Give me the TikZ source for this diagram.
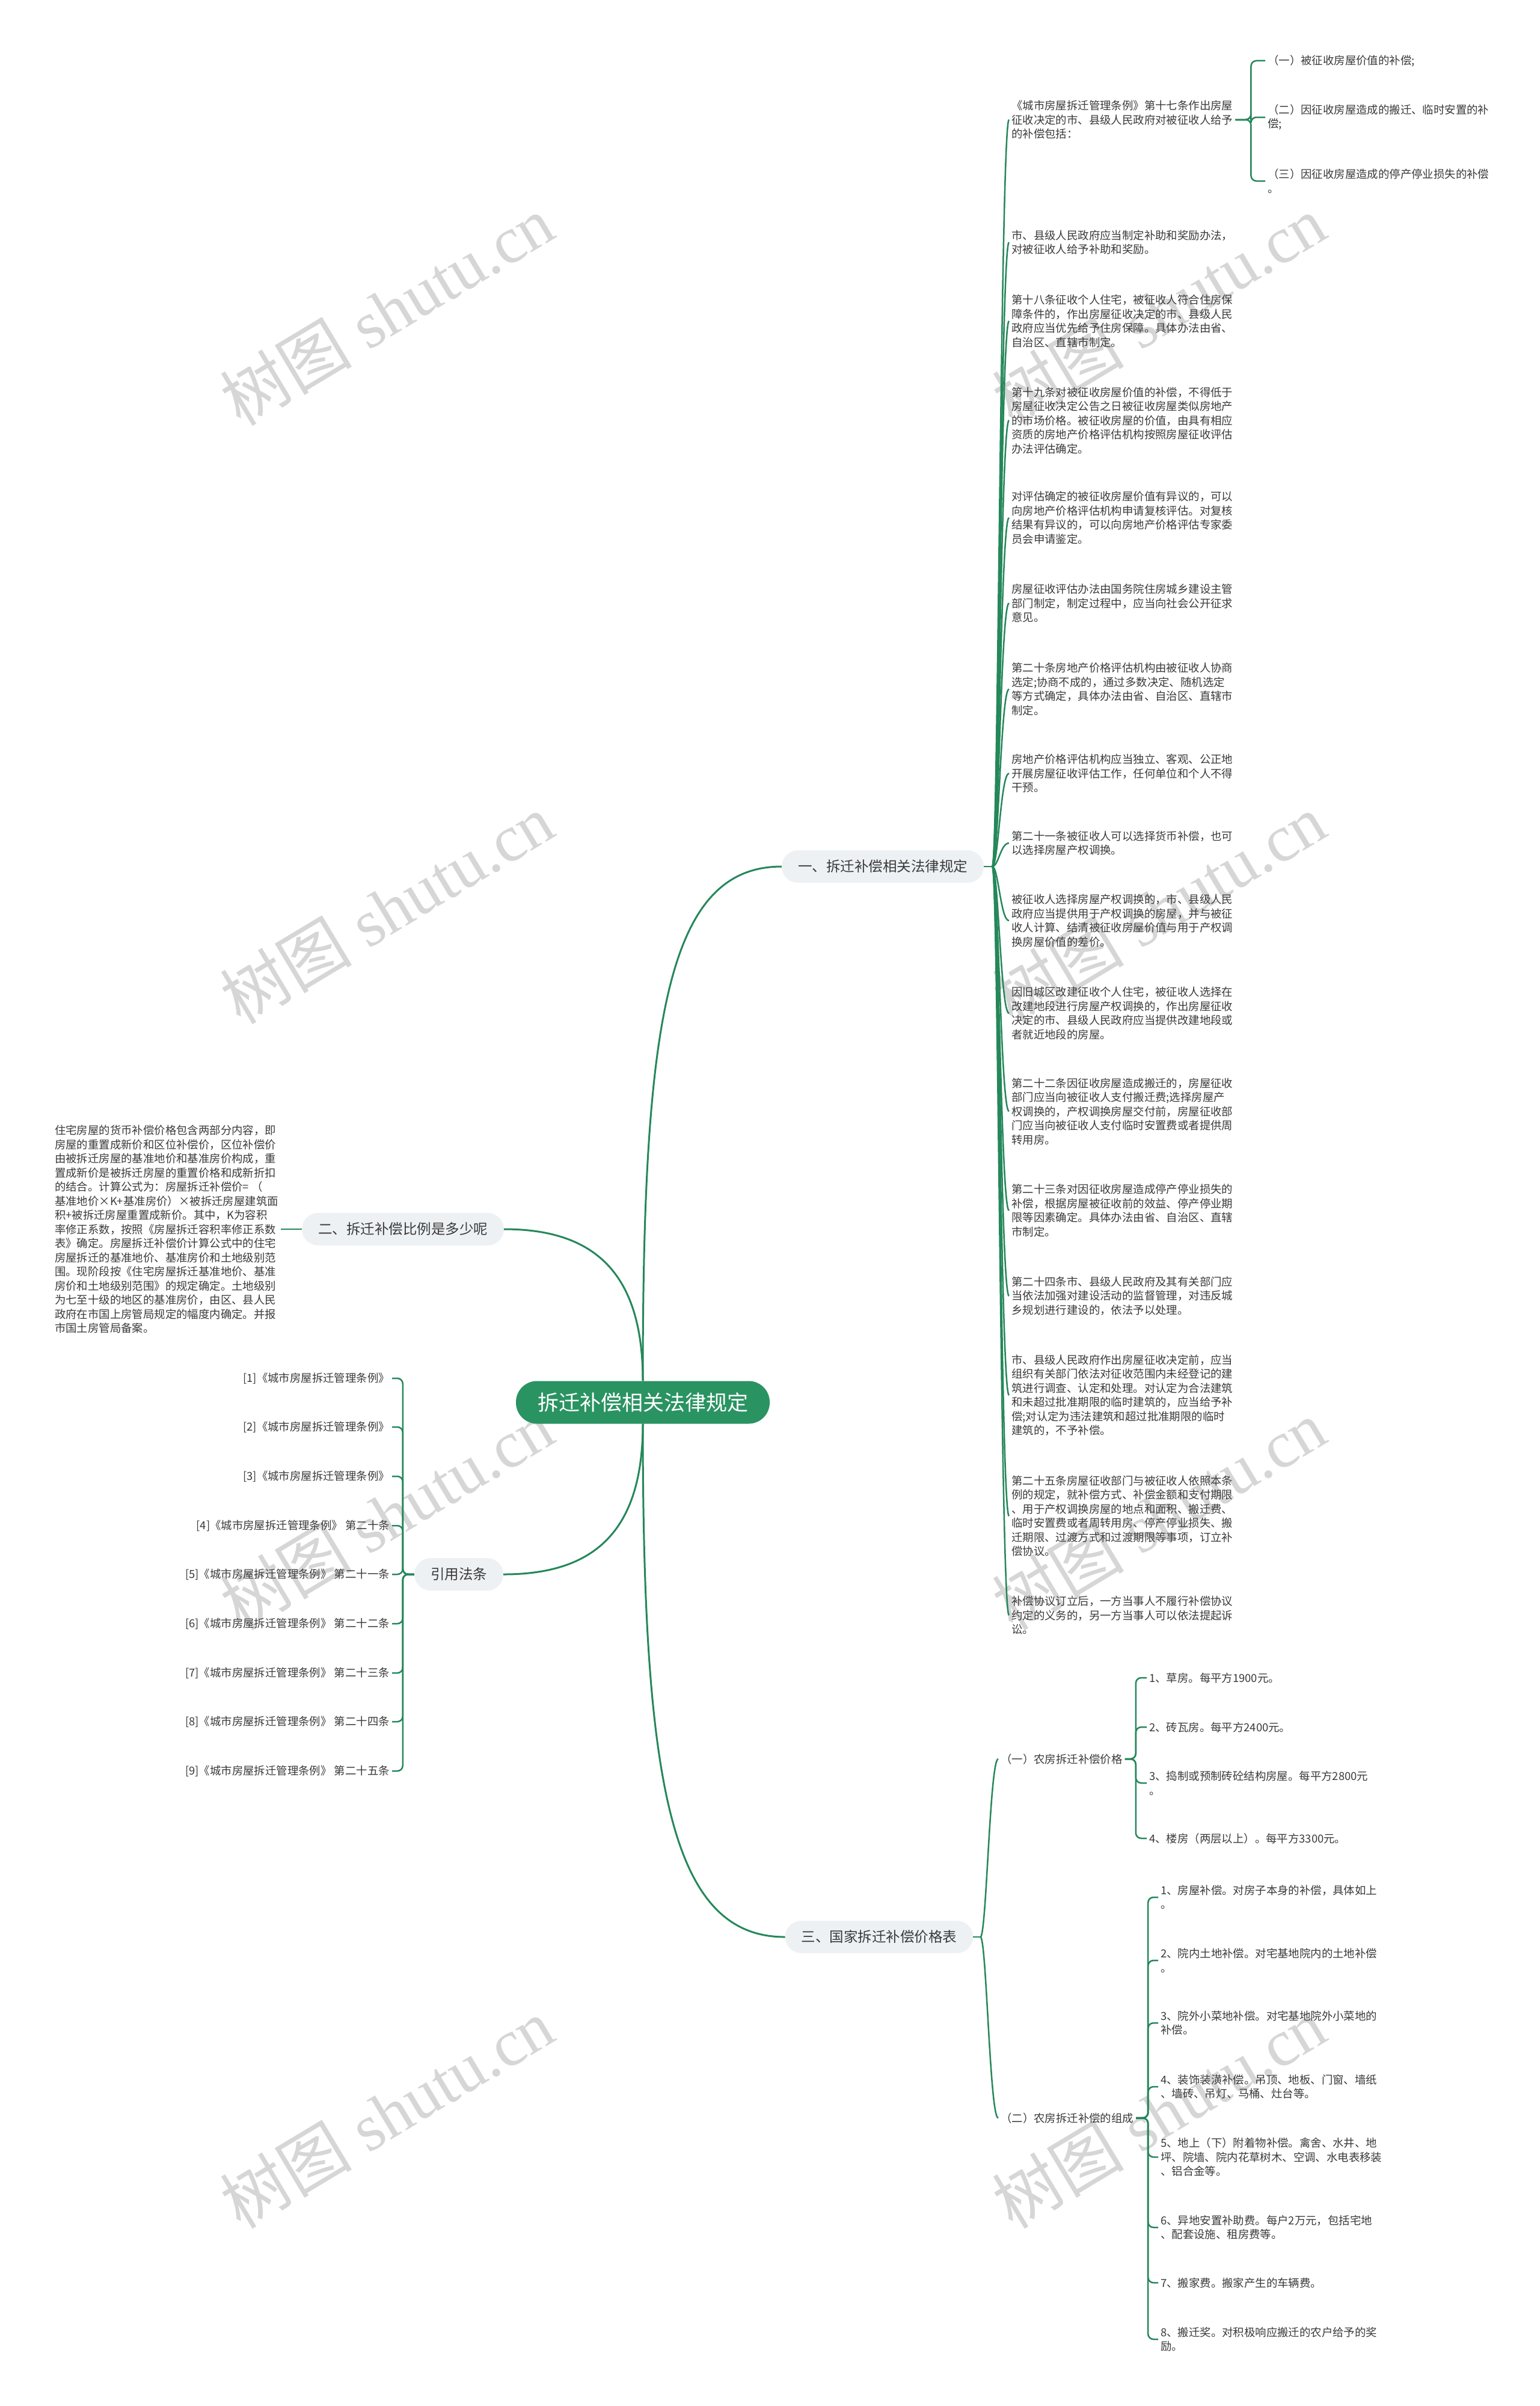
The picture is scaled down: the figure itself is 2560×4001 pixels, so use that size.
\documentclass[tikz,border=0pt]{standalone}
\usepackage{fontspec}
\newfontfamily\cjkfont{Noto Sans CJK SC}
\newfontfamily\wmserif{Liberation Serif}
\definecolor{rootgreen}{HTML}{2A9362}
\definecolor{linegreen}{HTML}{25875A}
\definecolor{pillgray}{HTML}{EEF1F4}
\definecolor{inkgray}{HTML}{3A3A3A}
\definecolor{wmgray}{HTML}{D6D6D6}

\begin{document}
\begin{tikzpicture}[x=1pt, y=-1pt,
    root/.style={rectangle, rounded corners=35pt, fill=rootgreen, text=white, minimum height=71pt, inner xsep=36pt, inner ysep=0pt, font=\cjkfont\fontsize{35}{42}\selectfont},
    branch/.style={rectangle, rounded corners=27pt, fill=pillgray, text=inkgray, minimum height=54pt, inner xsep=27pt, inner ysep=0pt, font=\cjkfont\fontsize{23.5}{28}\selectfont},
    leaf/.style={anchor=west, align=left, inner sep=4pt, text=inkgray, font=\cjkfont\fontsize{18.4}{23.5}\selectfont},
    cite/.style={leaf, anchor=east, align=right},
    wmark/.style={rotate=31, text=wmgray, font=\wmserif\fontsize{110}{110}\selectfont},
    link/.style={draw=linegreen, line width=3pt},
    twig/.style={draw=linegreen, line width=2.5pt},
    bracket/.style={twig, rounded corners=9pt}
]
    % Page
    \fill[white] (0,0) rectangle (2560,4001);
    \useasboundingbox (0,0) rectangle (2560,4001);

    % Watermarks
    \node[wmark] (w1) at (643,516) {{\cjkfont 树图} shutu.cn};
    \node[wmark] (w2) at (1927,516) {{\cjkfont 树图} shutu.cn};
    \node[wmark] (w3) at (643,1511) {{\cjkfont 树图} shutu.cn};
    \node[wmark] (w4) at (1927,1511) {{\cjkfont 树图} shutu.cn};
    \node[wmark] (w5) at (643,2519) {{\cjkfont 树图} shutu.cn};
    \node[wmark] (w6) at (1927,2519) {{\cjkfont 树图} shutu.cn};
    \node[wmark] (w7) at (643,3514) {{\cjkfont 树图} shutu.cn};
    \node[wmark] (w8) at (1927,3514) {{\cjkfont 树图} shutu.cn};

    % Centre and first level
    \node[root] (root) at (1069,2332) {拆迁补偿相关法律规定};
    \node[branch] (law) at (1468,1441) {一、拆迁补偿相关法律规定};
    \node[branch] (ratio) at (670,2044) {二、拆迁补偿比例是多少呢};
    \node[branch] (refs) at (763,2618) {引用法条};
    \node[branch] (price) at (1462,3221) {三、国家拆迁补偿价格表};

    % Right column: legal rules
    \node[leaf] (rule0) at (1678,199) {《城市房屋拆迁管理条例》第十七条作出房屋\\征收决定的市、县级人民政府对被征收人给予\\的补偿包括：};
    \node[leaf] (item1) at (2104,101) {（一）被征收房屋价值的补偿;};
    \node[leaf] (item2) at (2104,195) {（二）因征收房屋造成的搬迁、临时安置的补\\偿;};
    \node[leaf] (item3) at (2104,301) {（三）因征收房屋造成的停产停业损失的补偿\\。};
    \node[leaf] (rule1) at (1678,403) {市、县级人民政府应当制定补助和奖励办法，\\对被征收人给予补助和奖励。};
    \node[leaf] (rule2) at (1678,534) {第十八条征收个人住宅，被征收人符合住房保\\障条件的，作出房屋征收决定的市、县级人民\\政府应当优先给予住房保障。具体办法由省、\\自治区、直辖市制定。};
    \node[leaf] (rule3) at (1678,699) {第十九条对被征收房屋价值的补偿，不得低于\\房屋征收决定公告之日被征收房屋类似房地产\\的市场价格。被征收房屋的价值，由具有相应\\资质的房地产价格评估机构按照房屋征收评估\\办法评估确定。};
    \node[leaf] (rule4) at (1678,861) {对评估确定的被征收房屋价值有异议的，可以\\向房地产价格评估机构申请复核评估。对复核\\结果有异议的，可以向房地产价格评估专家委\\员会申请鉴定。};
    \node[leaf] (rule5) at (1678,1003) {房屋征收评估办法由国务院住房城乡建设主管\\部门制定，制定过程中，应当向社会公开征求\\意见。};
    \node[leaf] (rule6) at (1678,1146) {第二十条房地产价格评估机构由被征收人协商\\选定;协商不成的，通过多数决定、随机选定\\等方式确定，具体办法由省、自治区、直辖市\\制定。};
    \node[leaf] (rule7) at (1678,1286) {房地产价格评估机构应当独立、客观、公正地\\开展房屋征收评估工作，任何单位和个人不得\\干预。};
    \node[leaf] (rule8) at (1678,1402) {第二十一条被征收人可以选择货币补偿，也可\\以选择房屋产权调换。};
    \node[leaf] (rule9) at (1678,1531) {被征收人选择房屋产权调换的，市、县级人民\\政府应当提供用于产权调换的房屋，并与被征\\收人计算、结清被征收房屋价值与用于产权调\\换房屋价值的差价。};
    \node[leaf] (rule10) at (1678,1685) {因旧城区改建征收个人住宅，被征收人选择在\\改建地段进行房屋产权调换的，作出房屋征收\\决定的市、县级人民政府应当提供改建地段或\\者就近地段的房屋。};
    \node[leaf] (rule11) at (1678,1848) {第二十二条因征收房屋造成搬迁的，房屋征收\\部门应当向被征收人支付搬迁费;选择房屋产\\权调换的，产权调换房屋交付前，房屋征收部\\门应当向被征收人支付临时安置费或者提供周\\转用房。};
    \node[leaf] (rule12) at (1678,2013) {第二十三条对因征收房屋造成停产停业损失的\\补偿，根据房屋被征收前的效益、停产停业期\\限等因素确定。具体办法由省、自治区、直辖\\市制定。};
    \node[leaf] (rule13) at (1678,2155) {第二十四条市、县级人民政府及其有关部门应\\当依法加强对建设活动的监督管理，对违反城\\乡规划进行建设的，依法予以处理。};
    \node[leaf] (rule14) at (1678,2320) {市、县级人民政府作出房屋征收决定前，应当\\组织有关部门依法对征收范围内未经登记的建\\筑进行调查、认定和处理。对认定为合法建筑\\和未超过批准期限的临时建筑的，应当给予补\\偿;对认定为违法建筑和超过批准期限的临时\\建筑的，不予补偿。};
    \node[leaf] (rule15) at (1678,2521) {第二十五条房屋征收部门与被征收人依照本条\\例的规定，就补偿方式、补偿金额和支付期限\\、用于产权调换房屋的地点和面积、搬迁费、\\临时安置费或者周转用房、停产停业损失、搬\\迁期限、过渡方式和过渡期限等事项，订立补\\偿协议。};
    \node[leaf] (rule16) at (1678,2686) {补偿协议订立后，一方当事人不履行补偿协议\\约定的义务的，另一方当事人可以依法提起诉\\讼。};

    % Left: ratio text and citations
    \node[leaf, anchor=east] (formula) at (467,2044) {住宅房屋的货币补偿价格包含两部分内容，即\\房屋的重置成新价和区位补偿价，区位补偿价\\由被拆迁房屋的基准地价和基准房价构成，重\\置成新价是被拆迁房屋的重置价格和成新折扣\\的结合。计算公式为：房屋拆迁补偿价= （\\基准地价×K+基准房价）×被拆迁房屋建筑面\\积+被拆迁房屋重置成新价。其中，K为容积\\率修正系数，按照《房屋拆迁容积率修正系数\\表》确定。房屋拆迁补偿价计算公式中的住宅\\房屋拆迁的基准地价、基准房价和土地级别范\\围。现阶段按《住宅房屋拆迁基准地价、基准\\房价和土地级别范围》的规定确定。土地级别\\为七至十级的地区的基准房价，由区、县人民\\政府在市国上房管局规定的幅度内确定。并报\\市国土房管局备案。};
    \node[cite] (cite1) at (652,2292) {[1]《城市房屋拆迁管理条例》};
    \node[cite] (cite2) at (652,2373) {[2]《城市房屋拆迁管理条例》};
    \node[cite] (cite3) at (652,2455) {[3]《城市房屋拆迁管理条例》};
    \node[cite] (cite4) at (652,2537) {[4]《城市房屋拆迁管理条例》 第二十条};
    \node[cite] (cite5) at (652,2618) {[5]《城市房屋拆迁管理条例》 第二十一条};
    \node[cite] (cite6) at (652,2700) {[6]《城市房屋拆迁管理条例》 第二十二条};
    \node[cite] (cite7) at (652,2782) {[7]《城市房屋拆迁管理条例》 第二十三条};
    \node[cite] (cite8) at (652,2863) {[8]《城市房屋拆迁管理条例》 第二十四条};
    \node[cite] (cite9) at (652,2945) {[9]《城市房屋拆迁管理条例》 第二十五条};

    % Bottom right: price table
    \node[leaf] (rural) at (1660,2925) {（一）农房拆迁补偿价格};
    \node[leaf] (parts) at (1660,3522) {（二）农房拆迁补偿的组成};
    \node[leaf] (cost1) at (1907,2790) {1、草房。每平方1900元。};
    \node[leaf] (cost2) at (1907,2872) {2、砖瓦房。每平方2400元。};
    \node[leaf] (cost3) at (1907,2965) {3、捣制或预制砖砼结构房屋。每平方2800元\\。};
    \node[leaf] (cost4) at (1907,3057) {4、楼房（两层以上）。每平方3300元。};
    \node[leaf] (part1) at (1926,3155) {1、房屋补偿。对房子本身的补偿，具体如上\\。};
    \node[leaf] (part2) at (1926,3260) {2、院内土地补偿。对宅基地院内的土地补偿\\。};
    \node[leaf] (part3) at (1926,3364) {3、院外小菜地补偿。对宅基地院外小菜地的\\补偿。};
    \node[leaf] (part4) at (1926,3470) {4、装饰装潢补偿。吊顶、地板、门窗、墙纸\\、墙砖、吊灯、马桶、灶台等。};
    \node[leaf] (part5) at (1926,3587) {5、地上（下）附着物补偿。禽舍、水井、地\\坪、院墙、院内花草树木、空调、水电表移装\\、铝合金等。};
    \node[leaf] (part6) at (1926,3704) {6、异地安置补助费。每户2万元，包括宅地\\、配套设施、租房费等。};
    \node[leaf] (part7) at (1926,3796) {7、搬家费。搬家产生的车辆费。};
    \node[leaf] (part8) at (1926,3890) {8、搬迁奖。对积极响应搬迁的农户给予的奖\\励。};

    % Root to first level
    \draw[link] (root.north) .. controls +(0,-600) and +(-190,0) .. (law.west);
    \draw[link] (root.south) .. controls +(0,600) and +(-190,0) .. (price.west);
    \draw[link] (root.north) .. controls +(0,-180) and +(150,0) .. (ratio.east);
    \draw[link] (root.south) .. controls +(0,180) and +(150,0) .. (refs.east);

    % Law branch to its rules
    \coordinate (lawend) at ([xshift=14pt]law.east);
    \draw[twig] (law.east) -- (lawend);
    \draw[twig] (lawend) .. controls +(10,0) and +(-14,0) .. (rule0.west);
    \draw[twig] (lawend) .. controls +(10,0) and +(-14,0) .. (rule1.west);
    \draw[twig] (lawend) .. controls +(10,0) and +(-14,0) .. (rule2.west);
    \draw[twig] (lawend) .. controls +(10,0) and +(-14,0) .. (rule3.west);
    \draw[twig] (lawend) .. controls +(10,0) and +(-14,0) .. (rule4.west);
    \draw[twig] (lawend) .. controls +(10,0) and +(-14,0) .. (rule5.west);
    \draw[twig] (lawend) .. controls +(10,0) and +(-14,0) .. (rule6.west);
    \draw[twig] (lawend) .. controls +(10,0) and +(-14,0) .. (rule7.west);
    \draw[twig] (lawend) .. controls +(10,0) and +(-14,0) .. (rule8.west);
    \draw[twig] (lawend) .. controls +(10,0) and +(-14,0) .. (rule9.west);
    \draw[twig] (lawend) .. controls +(10,0) and +(-14,0) .. (rule10.west);
    \draw[twig] (lawend) .. controls +(10,0) and +(-14,0) .. (rule11.west);
    \draw[twig] (lawend) .. controls +(10,0) and +(-14,0) .. (rule12.west);
    \draw[twig] (lawend) .. controls +(10,0) and +(-14,0) .. (rule13.west);
    \draw[twig] (lawend) .. controls +(10,0) and +(-14,0) .. (rule14.west);
    \draw[twig] (lawend) .. controls +(10,0) and +(-14,0) .. (rule15.west);
    \draw[twig] (lawend) .. controls +(10,0) and +(-14,0) .. (rule16.west);

    % Article 17 items
    \draw[bracket] (rule0.east) -- ++(26,0) |- (item1.west);
    \draw[bracket] (rule0.east) -- ++(26,0) |- (item2.west);
    \draw[bracket] (rule0.east) -- ++(26,0) |- (item3.west);

    % Ratio text and citations
    \draw[twig] (ratio.west) -- (formula.east);
    \draw[bracket] (refs.west) -- ++(-19,0) |- (cite1.east);
    \draw[bracket] (refs.west) -- ++(-19,0) |- (cite2.east);
    \draw[bracket] (refs.west) -- ++(-19,0) |- (cite3.east);
    \draw[bracket] (refs.west) -- ++(-19,0) |- (cite4.east);
    \draw[bracket] (refs.west) -- ++(-19,0) |- (cite5.east);
    \draw[bracket] (refs.west) -- ++(-19,0) |- (cite6.east);
    \draw[bracket] (refs.west) -- ++(-19,0) |- (cite7.east);
    \draw[bracket] (refs.west) -- ++(-19,0) |- (cite8.east);
    \draw[bracket] (refs.west) -- ++(-19,0) |- (cite9.east);

    % Price table
    \coordinate (priceend) at ([xshift=12pt]price.east);
    \draw[twig] (price.east) -- (priceend);
    \draw[twig] (priceend) .. controls +(10,0) and +(-14,0) .. (rural.west);
    \draw[twig] (priceend) .. controls +(10,0) and +(-14,0) .. (parts.west);
    \draw[bracket] (rural.east) -- ++(18,0) |- (cost1.west);
    \draw[bracket] (rural.east) -- ++(18,0) |- (cost2.west);
    \draw[bracket] (rural.east) -- ++(18,0) |- (cost3.west);
    \draw[bracket] (rural.east) -- ++(18,0) |- (cost4.west);
    \draw[bracket] (parts.east) -- ++(20,0) |- (part1.west);
    \draw[bracket] (parts.east) -- ++(20,0) |- (part2.west);
    \draw[bracket] (parts.east) -- ++(20,0) |- (part3.west);
    \draw[bracket] (parts.east) -- ++(20,0) |- (part4.west);
    \draw[bracket] (parts.east) -- ++(20,0) |- (part5.west);
    \draw[bracket] (parts.east) -- ++(20,0) |- (part6.west);
    \draw[bracket] (parts.east) -- ++(20,0) |- (part7.west);
    \draw[bracket] (parts.east) -- ++(20,0) |- (part8.west);
\end{tikzpicture}
\end{document}
